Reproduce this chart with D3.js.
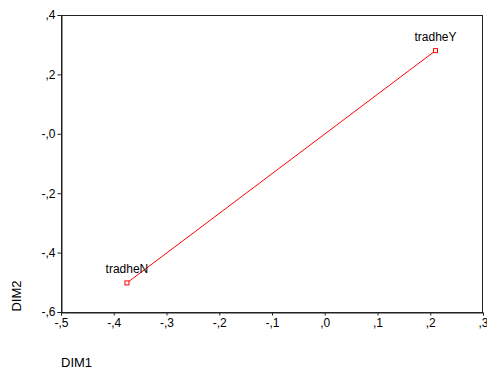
<!DOCTYPE html>
<html><head><meta charset="utf-8">
<script src="https://cdn.jsdelivr.net/npm/d3@7/dist/d3.min.js"></script>
<style>body{margin:0;background:#fff}svg{display:block}text{font-family:"Liberation Sans",Arial,sans-serif}</style>
</head><body>
<script>
const categories = ["tradheN", "tradheY"];
const dim1 = [-0.375, 0.210];
const dim2 = [-0.502, 0.280];
const xTicks = [-0.5, -0.4, -0.3, -0.2, -0.1, 0.0, 0.1, 0.2, 0.3];
const xTickLabels = ["-,5", "-,4", "-,3", "-,2", "-,1", ",0", ",1", ",2", ",3"];
const yTicks = [0.4, 0.2, 0.0, -0.2, -0.4, -0.6];
const yTickLabels = [",4", ",2", "-,0", "-,2", "-,4", "-,6"];

const W = 487, H = 373;
const L = 61, R = 483, T = 15, B = 312;
const svg = d3.select("body").append("svg").attr("width", W).attr("height", H);
const x = d3.scaleLinear().domain([-0.5, 0.3]).range([L, R]);
const y = d3.scaleLinear().domain([-0.6, 0.4]).range([B, T]);

svg.append("rect").attr("x", L + 0.5).attr("y", T + 0.5).attr("width", R - L - 1).attr("height", B - T)
  .attr("fill", "none").attr("stroke", "#222").attr("stroke-width", 1);

const xa = svg.append("g").attr("transform", `translate(0,${B + 0.5})`)
  .call(d3.axisBottom(x).tickValues(xTicks).tickSize(3).tickPadding(3)
    .tickFormat((d, i) => xTickLabels[i]));
const ya = svg.append("g").attr("transform", `translate(${L + 0.5},0)`)
  .call(d3.axisLeft(y).tickValues(yTicks).tickSize(4).tickPadding(2)
    .tickFormat((d, i) => yTickLabels[i]));
[xa, ya].forEach(g => {
  g.select(".domain").attr("stroke", "#222");
  g.selectAll(".tick line").attr("stroke", "#222");
  g.selectAll("text").attr("font-size", 12).attr("fill", "#000")
    .style("font-family", '"Liberation Sans",Arial,sans-serif');
});

const pts = categories.map((c, i) => ({c, x: dim1[i], y: dim2[i]}));
svg.append("path").datum(pts)
  .attr("d", d3.line().x(d => x(d.x)).y(d => y(d.y)))
  .attr("fill", "none").attr("stroke", "#ff0000").attr("stroke-width", 1);
svg.selectAll("rect.m").data(pts).join("rect").attr("class", "m")
  .attr("x", d => x(d.x) - 2).attr("y", d => y(d.y) - 2)
  .attr("width", 4).attr("height", 4)
  .attr("fill", "#fff").attr("stroke", "#ff0000").attr("stroke-width", 1);
svg.selectAll("text.lab").data(pts).join("text").attr("class", "lab")
  .attr("x", d => x(d.x)).attr("y", d => y(d.y) - 9.5)
  .attr("text-anchor", "middle").attr("font-size", 12).attr("fill", "#000")
  .text(d => d.c);

svg.append("text").attr("x", 61).attr("y", 367).attr("font-size", 13).text("DIM1");
svg.append("text").attr("transform", "translate(21,296) rotate(-90)")
  .attr("text-anchor", "middle").attr("font-size", 13).text("DIM2");
</script>
</body></html>
